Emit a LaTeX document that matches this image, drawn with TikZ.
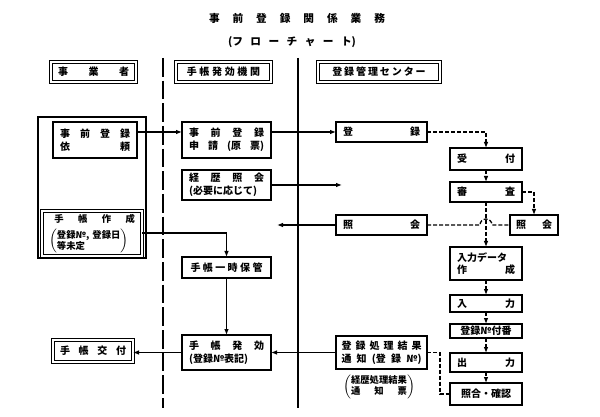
\documentclass[tikz,border=0pt]{standalone}
\usepackage{fontspec}
\setmainfont{Noto Sans CJK JP}
\usetikzlibrary{arrows.meta}
\newcommand\gp{\hskip 0pt plus 1fill\relax}
\newcommand\bx[7][]{%
 \pgfmathsetmacro\bw{(#5-#3)*0.75}%
 \pgfmathsetmacro\bh{(#6-#4)*0.75}%
 \pgfmathsetmacro\tw{(#5-#3-14)*0.75}%
 \node[box,minimum width=\bw pt,minimum height=\bh pt,text width=\tw pt,#1] (#2) at ({(#3+#5)/2},{(#4+#6)/2}) {#7};}
\begin{document}
\begin{tikzpicture}[x=0.75pt,y=-0.75pt,
 box/.style={draw,line width=1.1pt,inner sep=0pt,outer sep=0pt,align=left,font=\fontsize{7.5}{9.5}\selectfont\bfseries},
 dbl/.style={double,double distance=1.1pt,line width=0.75pt},
 arr/.style={line width=1.1pt,-{Latex[length=4.5pt,width=3.5pt]}},
 dsh/.style={line width=1pt,dash pattern=on 3pt off 1.5pt},
 darr/.style={dsh,-{Latex[length=4.5pt,width=3.5pt]}},
 ttl/.style={inner sep=0pt,align=left,font=\fontsize{8}{9}\selectfont\bfseries}]
\useasboundingbox (0,0) rectangle (600,417);
% title
\node[ttl,text width=132pt] (t1) at (297,18) {事\gp 前\gp 登\gp 録\gp 関\gp 係\gp 業\gp 務};
\node[ttl,text width=96pt] (t2) at (292,42) {(フ\gp ロ\gp ー\gp チ\gp ャ\gp ー\gp ト)};
% lanes
\draw[line width=1.2pt,dash pattern=on 14pt off 3pt] (163,58) -- (163,408);
\draw[line width=1.2pt] (298,58) -- (298,408);
% headers
\bx[dbl]{hA}{51}{62}{136}{82}{事\gp 業\gp 者}
\bx[dbl,text width=55pt]{hB}{176}{62}{271}{82}{手\gp 帳\gp 発\gp 効\gp 機\gp 関}
\bx[dbl,text width=70pt]{hC}{318}{62}{440}{82}{登\gp 録\gp 管\gp 理\gp セ\gp ン\gp タ\gp ー}
% left column
\bx{cont}{38}{117}{146}{258}{}
\bx{yirai}{53}{122}{137}{158}{事\gp 前\gp 登\gp 録\\依\gp 頼}
\bx[dbl,font=\fontsize{7}{8}\selectfont\bfseries]{sakusei}{42}{211}{142}{256}{\hspace*{4pt}手\gp 帳\gp 作\gp 成\hspace*{2pt}\\[3.5pt]\renewcommand\arraystretch{0.85}$\left(\begin{tabular}{@{}l@{}}登録№, 登録日\\等未定\end{tabular}\right)$}
\bx[dbl]{kofu}{53}{340}{133}{362}{手\gp 帳\gp 交\gp 付}
% middle column
\bx{shinsei}{182}{122}{271}{158}{事\gp 前\gp 登\gp 録\\申\gp 請\gp (原\gp 票)}
\bx{keireki}{182}{170}{271}{200}{経\gp 歴\gp 照\gp 会\\(必要に応じて)}
\bx[text width=54pt]{hokan}{182}{257}{271}{278}{手\gp 帳\gp 一\gp 時\gp 保\gp 管}
\bx{hatsuko}{182}{335}{271}{370}{手\gp 帳\gp 発\gp 効\\(登録№表記)}
% right column
\bx{toroku}{336}{122}{427}{142}{登\gp 録}
\bx{uketsuke}{450}{148}{522}{170}{受\gp 付}
\bx{shinsa}{450}{182}{522}{202}{審\gp 査}
\bx{shokaiL}{336}{215}{427}{235}{照\gp 会}
\bx[text width=27pt]{shokaiR}{510}{215}{558}{235}{照\gp 会}
\bx{data}{450}{247}{522}{280}{入力データ\\作\gp 成}
\bx{nyuryoku}{450}{295}{522}{312}{入\gp 力}
\bx[align=center]{fuban}{450}{324}{522}{338}{登録№付番}
\bx{shutsu}{450}{353}{522}{372}{出\gp 力}
\bx[align=center]{shogo}{450}{383}{522}{405}{照合・確認}
\bx[text width=60pt]{tsuchi}{336}{336}{427}{369}{登\gp 録\gp 処\gp 理\gp 結\gp 果\\通\gp 知\gp (登\gp 録\gp №)}
\node[box,draw=none,align=center,font=\fontsize{7}{8}\selectfont\bfseries] (note) at (379,387) {$\left(\begin{tabular}{@{}l@{}}経歴処理結果\\\makebox[6em][s]{通\hfill 知\hfill 票}\end{tabular}\right)$};
% connectors
\coordinate (k1) at (342,185);
\coordinate (k2) at (277,225);
\coordinate (hop) at (480,225);
\draw[arr] (yirai.east |- toroku) -- (shinsei.west |- toroku);
\draw[arr] (shinsei.east |- toroku) -- (toroku.west);
\draw[arr] (keireki.east) -- (k1);
\draw[arr] (shokaiL.west) -- (k2);
\draw[arr] ([yshift=0.375pt]sakusei.east) -| (hokan.north);
\draw[arr] (hokan.south) -- (hatsuko.north);
\draw[arr] (hatsuko.west) -- (kofu.east |- hatsuko.west);
\draw[arr] (tsuchi.west) -- (hatsuko.east);
\draw[darr] (toroku.east) -| (uketsuke.north);
\draw[darr] (uketsuke.south) -- (shinsa.north);
\draw[darr] (shinsa.east) -| (shokaiR.north);
\draw[dsh] (shokaiL.east) -- (hop) arc[start angle=180,end angle=360,radius=6] -- (shokaiR.west);
\draw[darr] (shinsa.south) -- (data.north);
\draw[darr] (data.south) -- (nyuryoku.north);
\draw[darr] (nyuryoku.south) -- (fuban.north);
\draw[darr] (fuban.south) -- (shutsu.north);
\draw[darr] (shutsu.south) -- (shogo.north);
\draw[dsh] (tsuchi.east) -- ++(13,0) |- (shogo.west);
\end{tikzpicture}
\end{document}
